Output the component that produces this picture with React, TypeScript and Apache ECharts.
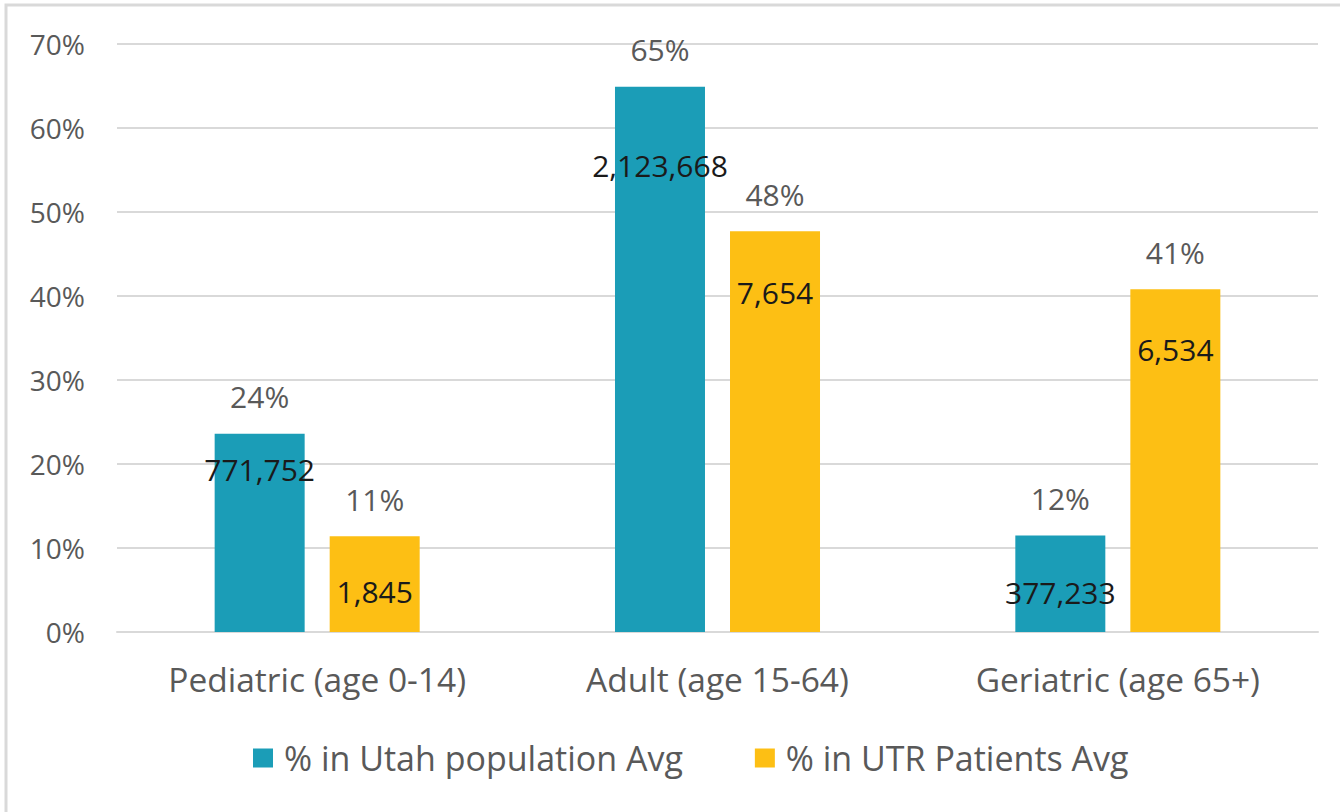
import React, { useEffect, useRef } from "react";
import * as echarts from "echarts";

const categories = ["Pediatric (age 0-14)", "Adult (age 15-64)", "Geriatric (age 65+)"];
const seriesNames = ["% in Utah population Avg", "% in UTR Patients Avg"];
const utahPct = [23.6, 64.9, 11.5];
const utrPct = [11.4, 47.7, 40.8];
const utahCounts = [771752, 2123668, 377233];
const utrCounts = [1845, 7654, 6534];
const yTicks = [0, 10, 20, 30, 40, 50, 60, 70];

// label vertical placement (styling) inside bars, px from bar top to text centre
const utahCountDy = [36, 79, 57];
const utrCountDy = [55, 61, 60];

const TEAL = "#1b9db7";
const GOLD = "#fdbf14";
const FONT = "Open Sans";

export default function App() {
  const ref = useRef<HTMLDivElement>(null);
  useEffect(() => {
    if (!ref.current) return;
    const chart = echarts.init(ref.current, null, { renderer: "svg" });
    const fmt = (n: number) => n.toLocaleString("en-US");
    const pctLabel = {
      show: true,
      position: "top",
      distance: 22,
      color: "#595959",
      fontSize: 30,
      fontFamily: FONT,
      formatter: (p: any) => Math.round(p.value) + "%",
    };
    const countData = (vals: number[], counts: number[], dys: number[]) =>
      vals.map((v, i) => ({
        value: v,
        label: {
          show: true,
          position: ["50%", dys[i]],
          align: "center",
          verticalAlign: "middle",
          formatter: fmt(counts[i]),
          color: "#1a1a1a",
          fontSize: 30,
          fontFamily: FONT,
        },
      }));
    chart.setOption({
      animation: false,
      backgroundColor: "#ffffff",
      graphic: [
        {
          type: "rect",
          shape: { x: 6, y: 5, width: 1400, height: 900 },
          style: { fill: "none", stroke: "#d9d9d9", lineWidth: 3 },
          silent: true,
        },
      ],
      grid: { left: 117, right: 22, top: 44, bottom: 180, containLabel: false },
      legend: {
        data: seriesNames,
        left: 253,
        top: 741,
        padding: 0,
        icon: "rect",
        itemWidth: 20,
        itemHeight: 19,
        itemGap: 72,
        textStyle: { color: "#595959", fontSize: 34, fontFamily: FONT, padding: [0, 0, 0, 6] },
      },
      xAxis: [
        {
          type: "category",
          data: categories,
          axisLine: { show: true, lineStyle: { color: "#d9d9d9", width: 2 } },
          axisTick: { show: false },
          axisLabel: { color: "#595959", fontSize: 33.5, fontFamily: FONT, margin: 30 },
        },
        {
          type: "category",
          data: categories,
          show: false,
        },
      ],
      yAxis: {
        type: "value",
        min: 0,
        max: 70,
        interval: 10,
        axisLine: { show: false },
        axisTick: { show: false },
        splitLine: { lineStyle: { color: "#d9d9d9", width: 2 } },
        axisLabel: {
          color: "#595959",
          fontSize: 28,
          fontFamily: FONT,
          margin: 32,
          formatter: (v: number) => (yTicks.includes(v) ? v + "%" : ""),
        },
      },
      series: [
        {
          name: seriesNames[0],
          type: "bar",
          xAxisIndex: 0,
          data: utahPct,
          barWidth: 90,
          barGap: "27.8%",
          itemStyle: { color: TEAL },
          label: pctLabel,
        },
        {
          name: seriesNames[1],
          type: "bar",
          xAxisIndex: 0,
          data: utrPct,
          barWidth: 90,
          barGap: "27.8%",
          itemStyle: { color: GOLD },
          label: pctLabel,
        },
        {
          name: "utahCounts",
          type: "bar",
          xAxisIndex: 1,
          data: countData(utahPct, utahCounts, utahCountDy),
          barWidth: 90,
          barGap: "27.8%",
          itemStyle: { color: "rgba(0,0,0,0)" },
          z: 5,
          silent: true,
        },
        {
          name: "utrCounts",
          type: "bar",
          xAxisIndex: 1,
          data: countData(utrPct, utrCounts, utrCountDy),
          barWidth: 90,
          barGap: "27.8%",
          itemStyle: { color: "rgba(0,0,0,0)" },
          z: 5,
          silent: true,
        },
      ],
    });
    return () => chart.dispose();
  }, []);
  return (
    <div
      ref={ref}
      style={{ position: "fixed", left: 0, top: 0, width: 1340, height: 812, background: "#fff" }}
    />
  );
}
